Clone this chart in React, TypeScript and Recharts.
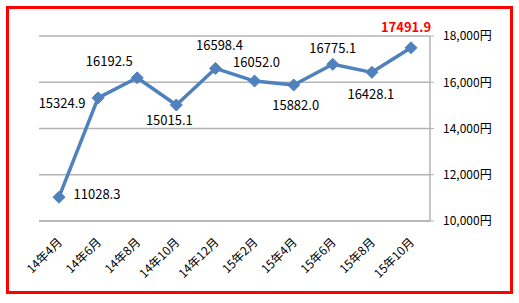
import React from 'react';
import { LineChart, Line, XAxis, YAxis, CartesianGrid, LabelList } from 'recharts';

const MONTHS = ['14年4月', '14年6月', '14年8月', '14年10月', '14年12月', '15年2月', '15年4月', '15年6月', '15年8月', '15年10月'];
const PRICES = [11028.3, 15324.9, 16192.5, 15015.1, 16598.4, 16052.0, 15882.0, 16775.1, 16428.1, 17491.9];
const Y_TICKS = [10000, 12000, 14000, 16000, 18000];
const HIGHLIGHT = 9;

// where each data label sits relative to its point (label centre)
const LABEL_SHIFT = [
  [38, -4], [-36, 5], [-28, -17], [-7, 14], [4, -24],
  [2, -20], [2, 20], [0, -17], [-1, 21], [-5, -21]
];

const data = MONTHS.map((month, i) => ({ month, value: PRICES[i] }));

const FONT = '"Noto Sans CJK JP", "Noto Sans", sans-serif';
const BLUE = '#4f81bd';
const GRID = '#b3b3b3';

const Diamond = (props: any) => {
  const { cx, cy } = props;
  if (cx == null || cy == null) return null;
  const r = 6;
  return (
    <polygon
      points={`${cx},${cy - r} ${cx + r},${cy} ${cx},${cy + r} ${cx - r},${cy}`}
      fill={BLUE}
      stroke={BLUE}
    />
  );
};

const MonthTick = (props: any) => {
  const { x, y, payload } = props;
  return (
    <g transform={`translate(${x + 4},${y + 14})`}>
      <text
        x={0}
        y={0}
        textAnchor="end"
        transform="rotate(-45)"
        fontSize={12}
        fontFamily={FONT}
        fill="#000"
      >
        {payload.value}
      </text>
    </g>
  );
};

const ValueLabel = (props: any) => {
  const { x, y, value, index } = props;
  const [dx, dy] = LABEL_SHIFT[index] || [0, -18];
  const hot = index === HIGHLIGHT;
  return (
    <text
      x={x + dx}
      y={y + dy}
      textAnchor="middle"
      dominantBaseline="central"
      fontSize={13}
      fontFamily={FONT}
      fontWeight={hot ? 'bold' : 'normal'}
      fill={hot ? '#ff0000' : '#000'}
    >
      {Number(value).toFixed(1)}
    </text>
  );
};

export default function App() {
  return (
    <div style={{ position: 'absolute', left: 0, top: 0, width: 519, height: 303, background: '#fff' }}>
      <div
        style={{
          position: 'absolute',
          left: 6,
          top: 6,
          width: 501,
          height: 282,
          border: '3px solid #ff0000'
        }}
      />
      <div style={{ position: 'absolute', left: 0, top: 0 }}>
        <LineChart width={519} height={303} data={data} margin={{ top: 36, right: 0, bottom: 0, left: 39 }}>
          <CartesianGrid vertical={false} stroke={GRID} strokeWidth={1.5} />
          <XAxis
            dataKey="month"
            height={82}
            padding={{ left: 20, right: 19 }}
            axisLine={{ stroke: GRID, strokeWidth: 1.5 }}
            tickLine={false}
            interval={0}
            tick={<MonthTick />}
          />
          <YAxis
            orientation="right"
            width={89}
            domain={[10000, 18000]}
            ticks={Y_TICKS}
            axisLine={{ stroke: GRID, strokeWidth: 1.5 }}
            tickLine={{ stroke: GRID }}
            tickSize={4}
            tickMargin={9}
            tick={{ fontSize: 12, fontFamily: FONT, fill: '#000' }}
            tickFormatter={(v: number) => v.toLocaleString('en-US') + '円'}
          />
          <Line
            type="linear"
            dataKey="value"
            stroke={BLUE}
            strokeWidth={3.5}
            strokeLinejoin="round"
            dot={<Diamond />}
            activeDot={false}
            isAnimationActive={false}
          >
            <LabelList dataKey="value" content={<ValueLabel />} />
          </Line>
        </LineChart>
      </div>
    </div>
  );
}
